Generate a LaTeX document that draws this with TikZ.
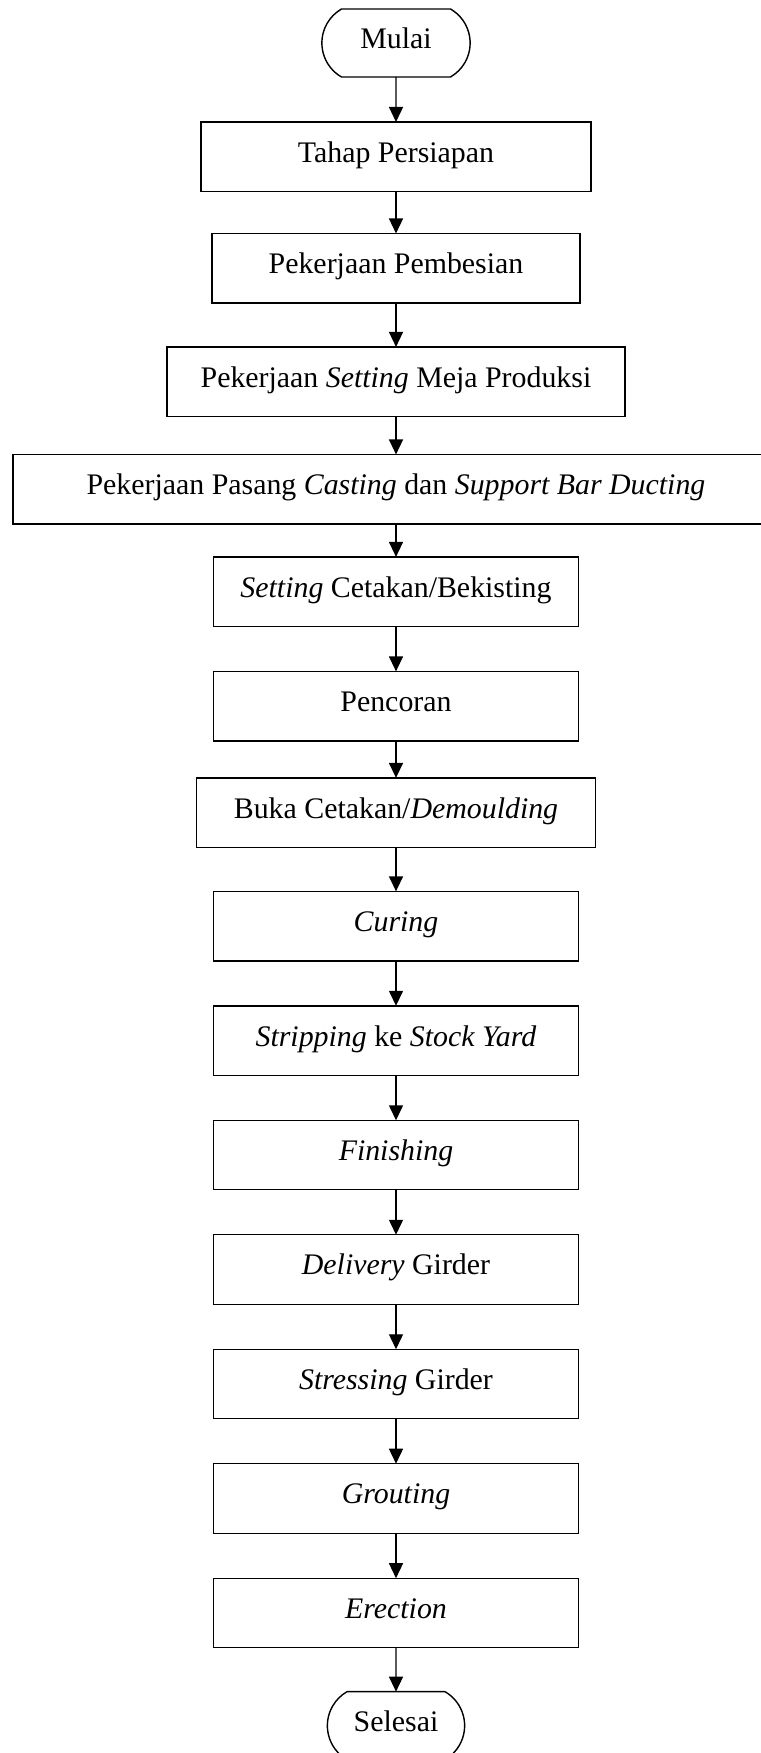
\documentclass[tikz,border=0pt]{standalone}
\usepackage{fontspec}
\setmainfont{Liberation Serif}
\usetikzlibrary{positioning,shapes.misc,arrows.meta}

\begin{document}
\begin{tikzpicture}[x=0.02cm, y=-0.02cm, node distance=0.9cm,
    font=\fontsize{17}{20}\selectfont,
    terminal/.style={rounded rectangle, rounded rectangle arc length=120, draw, line width=0.8pt, outer sep=0pt, minimum width=3.2cm, minimum height=1.36cm, text height=11pt, text depth=4.8pt},
    process/.style={rectangle, draw, line width=0.8pt, outer sep=0pt, minimum width=7.3cm, minimum height=1.39cm, text height=11pt, text depth=4.8pt, align=center},
    arrow/.style={-{Triangle[length=0.3cm,width=0.28cm]}, line width=0.8pt}]

    \useasboundingbox (0,0) rectangle (760,1753);

    % Alur pekerjaan girder
    \node[terminal] (mulai) at (396,43) {Mulai};
    \node[process, below=of mulai, minimum width=7.8cm] (persiapan) {Tahap Persiapan};
    \node[process, below=0.84cm of persiapan, minimum width=7.36cm] (pembesian) {Pekerjaan Pembesian};
    \node[process, below=0.88cm of pembesian, minimum width=9.16cm] (meja) {Pekerjaan \textit{Setting} Meja Produksi};
    \node[process, below=0.76cm of meja, minimum width=15.32cm] (casting) {Pekerjaan Pasang \textit{Casting} dan \textit{Support Bar Ducting}};
    \node[process, below=0.66cm of casting] (cetakan) {\textit{Setting} Cetakan/Bekisting};
    \node[process, below=of cetakan] (pencoran) {Pencoran};
    \node[process, below=0.74cm of pencoran, minimum width=7.98cm] (demoulding) {Buka Cetakan/\textit{Demoulding}};
    \node[process, below=0.88cm of demoulding] (curing) {\textit{Curing}};
    \node[process, below=of curing] (stripping) {\textit{Stripping} ke \textit{Stock Yard}};
    \node[process, below=of stripping] (finishing) {\textit{Finishing}};
    \node[process, below=of finishing] (delivery) {\textit{Delivery} Girder};
    \node[process, below=of delivery] (stressing) {\textit{Stressing} Girder};
    \node[process, below=of stressing] (grouting) {\textit{Grouting}};
    \node[process, below=of grouting] (erection) {\textit{Erection}};
    \node[terminal, below=0.88cm of erection, minimum width=2.98cm] (selesai) {Selesai};

    % Hubungkan alur
    \draw[arrow] (mulai) -- (persiapan);
    \draw[arrow] (persiapan) -- (pembesian);
    \draw[arrow] (pembesian) -- (meja);
    \draw[arrow] (meja) -- (casting);
    \draw[arrow] (casting) -- (cetakan);
    \draw[arrow] (cetakan) -- (pencoran);
    \draw[arrow] (pencoran) -- (demoulding);
    \draw[arrow] (demoulding) -- (curing);
    \draw[arrow] (curing) -- (stripping);
    \draw[arrow] (stripping) -- (finishing);
    \draw[arrow] (finishing) -- (delivery);
    \draw[arrow] (delivery) -- (stressing);
    \draw[arrow] (stressing) -- (grouting);
    \draw[arrow] (grouting) -- (erection);
    \draw[arrow] (erection) -- (selesai);
\end{tikzpicture}
\end{document}
